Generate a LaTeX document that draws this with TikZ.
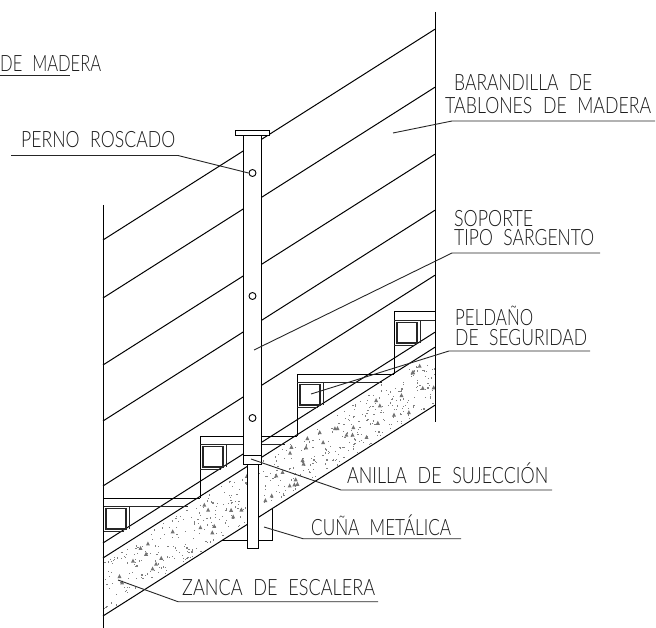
\documentclass[tikz,border=0pt]{standalone}
\usepackage{fontspec}
\usepackage{graphicx}
\setmainfont[WordSpace=2.2]{Lato Light}
\tikzset{
  ln/.style={line width=1pt,draw=black,line cap=butt},
  thin ln/.style={line width=0.9pt,draw=black!85},
  leader/.style={line width=0.9pt,draw=black!85},
  box/.style={line width=1.5pt,draw=black!85},
  txt/.style={inner sep=0pt,anchor=base west,text=black!90,font=\fontsize{22.5}{22.5}\selectfont},
}
\newcommand{\lbl}[5]{\node[txt] (#1) at (#2,#3) {\resizebox{#4pt}{\height}{#5}};}
\newcommand{\stepunit}[4]{% x, ytop, right end of second line, length of top line
  \draw[ln] (#1,#2+62) -- (#1,#2) -- (#1+#4,#2);
  \draw[thin ln] (#1,#2+8.5) -- (#1+#3,#2+8.5);
  \draw[box] (#1+3,#2+10.5) rectangle (#1+23,#2+31);
  \draw[thin ln] (#1+26,#2+8.5) -- (#1+26,#2+31);
  \draw[thin ln] (#1,#2+33.5) -- (#1+21,#2+33.5);
}
\begin{document}
\begin{tikzpicture}[x=1pt,y=-1pt]
\useasboundingbox (0,0) rectangle (656,628);
% concrete speckle
\pgfmathsetseed{4711}
\begin{scope}
\clip (103,558) -- (435,347) -- (435,405) -- (103,616) -- cycle;
\foreach \i in {1,...,520}{
  \pgfmathsetmacro\px{103+332*rnd}
  \pgfmathsetmacro\py{558-0.635*(\px-103)+3+52*rnd}
  \fill[black!50] (\px,\py) rectangle ++(1.2,1.2);
}
\foreach \i in {1,...,55}{
  \pgfmathsetmacro\px{103+332*rnd}
  \pgfmathsetmacro\py{558-0.635*(\px-103)+9+42*rnd}
  \fill[black!55] (\px,\py) -- ++(2,-4) -- ++(2,4) -- cycle;
}
\end{scope}
% rails and stringer
\foreach \a in {240,298,365,421,486,543,558,616}{
  \draw[ln] (103,\a) -- (435,\a-210.8);
}
% steps
\stepunit{394}{312}{41}{41}
\stepunit{297}{374}{85}{97}
\stepunit{200}{436}{85}{97}
\stepunit{103}{498}{85}{97}
% walls
\draw[ln] (103,205) -- (103,628);
\draw[ln] (435,12) -- (435,422);
% wedge
\draw[ln] (222,540) -- (272.5,540) -- (272.5,508);
% post
\draw[ln,fill=white] (247,464) rectangle (258,548);
\draw[ln,fill=white] (243,135) rectangle (261,455);
\draw[ln,fill=white] (243,455) rectangle (261,464);
\draw[ln,fill=white] (235,131) rectangle (269,135.5);
\node[circle,draw=black,line width=0.9pt,minimum size=7pt,inner sep=0pt] (b1) at (252.5,173) {};
\node[circle,draw=black,line width=0.9pt,minimum size=7pt,inner sep=0pt] (b2) at (252.5,296) {};
\node[circle,draw=black,line width=0.9pt,minimum size=7pt,inner sep=0pt] (b3) at (252.5,418) {};
% leaders
\coordinate (a0) at (0,75); \coordinate (a1) at (70,75);
\draw[leader] (a0) -- (a1);
\coordinate (p0) at (11,155.5); \coordinate (p1) at (178,155.5);
\draw[leader] (p0) -- (p1) -- (b1.west);
\coordinate (q0) at (655,121); \coordinate (q1) at (452,121); \coordinate (q2) at (393,133);
\draw[leader] (q0) -- (q1) -- (q2);
\coordinate (r0) at (600,253); \coordinate (r1) at (452,253); \coordinate (r2) at (254,350);
\draw[leader] (r0) -- (r1) -- (r2);
\coordinate (s0) at (590,351); \coordinate (s1) at (449,351); \coordinate (s2) at (311,394);
\draw[leader] (s0) -- (s1) -- (s2);
\coordinate (t0) at (552,490); \coordinate (t1) at (341,490); \coordinate (t2) at (251,459);
\draw[leader] (t0) -- (t1) -- (t2);
\coordinate (u0) at (461,538.7); \coordinate (u1) at (303,538.7); \coordinate (u2) at (264,527);
\draw[leader] (u0) -- (u1) -- (u2);
\coordinate (v0) at (378,601.7); \coordinate (v1) at (178,601.7); \coordinate (v2) at (118,580);
\draw[leader] (v0) -- (v1) -- (v2);
% labels
\lbl{la}{0}{72}{101}{DE MADERA}
\lbl{lb}{21}{148}{154}{PERNO ROSCADO}
\lbl{lc}{454}{91}{138}{BARANDILLA DE}
\lbl{ld}{445}{114}{206}{TABLONES DE MADERA}
\lbl{le}{454}{227}{79}{SOPORTE}
\lbl{lf}{454}{246}{140}{TIPO SARGENTO}
\lbl{lg}{455}{326}{78}{PELDAÑO}
\lbl{lh}{455}{345}{132}{DE SEGURIDAD}
\lbl{li}{347}{483}{201}{ANILLA DE SUJECCIÓN}
\lbl{lj}{311}{535}{140}{CUÑA METÁLICA}
\lbl{lk}{182}{595}{193}{ZANCA DE ESCALERA}
\end{tikzpicture}
\end{document}
